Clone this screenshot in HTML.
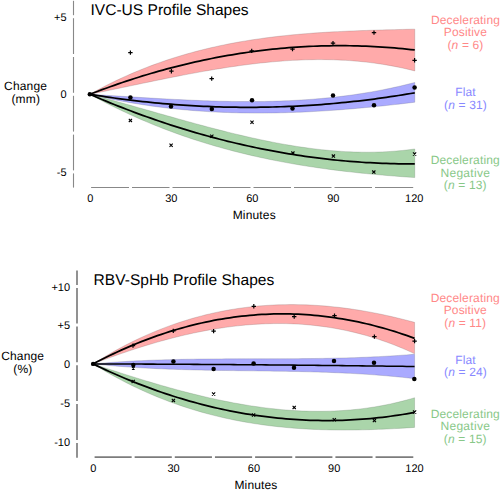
<!DOCTYPE html>
<html><head><meta charset="utf-8"><style>
html,body{margin:0;padding:0;background:#fff;width:501px;height:490px;overflow:hidden}
svg{display:block;text-rendering:geometricPrecision}
</style></head><body>
<svg width="501" height="490" viewBox="0 0 501 490">
<polygon points="89.80,94.30 93.86,92.04 97.92,89.84 101.99,87.69 106.05,85.59 110.11,83.55 114.17,81.56 118.23,79.62 122.30,77.73 126.36,75.89 130.42,74.10 134.48,72.36 138.54,70.67 142.61,69.02 146.67,67.42 150.73,65.87 154.79,64.36 158.85,62.90 162.92,61.48 166.98,60.10 171.04,58.76 175.10,57.47 179.16,56.22 183.23,55.00 187.29,53.83 191.35,52.70 195.41,51.60 199.47,50.54 203.54,49.52 207.60,48.53 211.66,47.58 215.72,46.66 219.78,45.78 223.85,44.92 227.91,44.11 231.97,43.32 236.03,42.56 240.09,41.84 244.16,41.14 248.22,40.47 252.28,39.83 256.34,39.22 260.40,38.63 264.47,38.07 268.53,37.54 272.59,37.03 276.65,36.54 280.71,36.08 284.78,35.64 288.84,35.22 292.90,34.82 296.96,34.45 301.02,34.09 305.09,33.75 309.15,33.43 313.21,33.12 317.27,32.84 321.33,32.57 325.40,32.31 329.46,32.07 333.52,31.84 337.58,31.63 341.64,31.43 345.71,31.24 349.77,31.06 353.83,30.89 357.89,30.73 361.95,30.58 366.02,30.44 370.08,30.31 374.14,30.18 378.20,30.06 382.26,29.95 386.33,29.83 390.39,29.73 394.45,29.63 398.51,29.52 402.57,29.43 406.64,29.33 410.70,29.23 414.76,29.13 414.76,70.93 410.70,69.92 406.64,68.96 402.57,68.05 398.51,67.19 394.45,66.39 390.39,65.63 386.33,64.92 382.26,64.26 378.20,63.65 374.14,63.08 370.08,62.56 366.02,62.08 361.95,61.65 357.89,61.26 353.83,60.92 349.77,60.62 345.71,60.35 341.64,60.13 337.58,59.95 333.52,59.81 329.46,59.70 325.40,59.64 321.33,59.61 317.27,59.61 313.21,59.66 309.15,59.73 305.09,59.84 301.02,59.99 296.96,60.16 292.90,60.37 288.84,60.60 284.78,60.87 280.71,61.17 276.65,61.49 272.59,61.85 268.53,62.23 264.47,62.63 260.40,63.07 256.34,63.52 252.28,64.00 248.22,64.51 244.16,65.04 240.09,65.58 236.03,66.15 231.97,66.74 227.91,67.35 223.85,67.98 219.78,68.63 215.72,69.29 211.66,69.97 207.60,70.66 203.54,71.37 199.47,72.10 195.41,72.84 191.35,73.59 187.29,74.35 183.23,75.12 179.16,75.91 175.10,76.70 171.04,77.51 166.98,78.32 162.92,79.14 158.85,79.96 154.79,80.79 150.73,81.63 146.67,82.47 142.61,83.32 138.54,84.17 134.48,85.02 130.42,85.87 126.36,86.72 122.30,87.57 118.23,88.42 114.17,89.27 110.11,90.12 106.05,90.97 101.99,91.81 97.92,92.64 93.86,93.47 89.80,94.30" fill="#ffaaaa" stroke="rgba(110,90,90,0.4)" stroke-width="0.6"/>
<polygon points="89.80,94.30 93.86,94.55 97.92,94.79 101.99,95.04 106.05,95.30 110.11,95.55 114.17,95.81 118.23,96.06 122.30,96.32 126.36,96.57 130.42,96.83 134.48,97.08 138.54,97.33 142.61,97.58 146.67,97.83 150.73,98.07 154.79,98.30 158.85,98.54 162.92,98.77 166.98,98.99 171.04,99.21 175.10,99.42 179.16,99.62 183.23,99.82 187.29,100.00 191.35,100.18 195.41,100.35 199.47,100.51 203.54,100.67 207.60,100.81 211.66,100.94 215.72,101.05 219.78,101.16 223.85,101.25 227.91,101.33 231.97,101.40 236.03,101.46 240.09,101.49 244.16,101.52 248.22,101.53 252.28,101.52 256.34,101.50 260.40,101.46 264.47,101.40 268.53,101.32 272.59,101.23 276.65,101.11 280.71,100.98 284.78,100.83 288.84,100.66 292.90,100.46 296.96,100.25 301.02,100.01 305.09,99.75 309.15,99.47 313.21,99.16 317.27,98.83 321.33,98.48 325.40,98.10 329.46,97.69 333.52,97.26 337.58,96.81 341.64,96.32 345.71,95.81 349.77,95.27 353.83,94.71 357.89,94.11 361.95,93.49 366.02,92.83 370.08,92.15 374.14,91.43 378.20,90.68 382.26,89.90 386.33,89.09 390.39,88.25 394.45,87.37 398.51,86.46 402.57,85.51 406.64,84.53 410.70,83.51 414.76,82.46 414.76,102.24 410.70,102.73 406.64,103.21 402.57,103.69 398.51,104.16 394.45,104.62 390.39,105.07 386.33,105.51 382.26,105.94 378.20,106.36 374.14,106.77 370.08,107.17 366.02,107.56 361.95,107.94 357.89,108.31 353.83,108.67 349.77,109.01 345.71,109.34 341.64,109.66 337.58,109.97 333.52,110.26 329.46,110.55 325.40,110.81 321.33,111.07 317.27,111.31 313.21,111.54 309.15,111.75 305.09,111.95 301.02,112.13 296.96,112.29 292.90,112.45 288.84,112.58 284.78,112.70 280.71,112.80 276.65,112.89 272.59,112.96 268.53,113.01 264.47,113.05 260.40,113.07 256.34,113.07 252.28,113.05 248.22,113.01 244.16,112.96 240.09,112.88 236.03,112.79 231.97,112.67 227.91,112.54 223.85,112.39 219.78,112.21 215.72,112.02 211.66,111.80 207.60,111.57 203.54,111.31 199.47,111.03 195.41,110.73 191.35,110.40 187.29,110.06 183.23,109.69 179.16,109.30 175.10,108.88 171.04,108.44 166.98,107.98 162.92,107.49 158.85,106.98 154.79,106.45 150.73,105.89 146.67,105.30 142.61,104.69 138.54,104.05 134.48,103.39 130.42,102.70 126.36,101.98 122.30,101.24 118.23,100.47 114.17,99.67 110.11,98.85 106.05,97.99 101.99,97.11 97.92,96.20 93.86,95.27 89.80,94.30" fill="#aaaaff" stroke="rgba(90,90,110,0.4)" stroke-width="0.6"/>
<polygon points="89.80,94.30 93.86,95.36 97.92,96.44 101.99,97.52 106.05,98.62 110.11,99.72 114.17,100.83 118.23,101.96 122.30,103.08 126.36,104.22 130.42,105.36 134.48,106.50 138.54,107.65 142.61,108.80 146.67,109.95 150.73,111.10 154.79,112.26 158.85,113.41 162.92,114.56 166.98,115.71 171.04,116.86 175.10,118.00 179.16,119.14 183.23,120.27 187.29,121.40 191.35,122.52 195.41,123.63 199.47,124.73 203.54,125.83 207.60,126.91 211.66,127.98 215.72,129.04 219.78,130.09 223.85,131.12 227.91,132.14 231.97,133.14 236.03,134.13 240.09,135.10 244.16,136.05 248.22,136.98 252.28,137.89 256.34,138.79 260.40,139.66 264.47,140.51 268.53,141.34 272.59,142.14 276.65,142.92 280.71,143.67 284.78,144.40 288.84,145.10 292.90,145.78 296.96,146.42 301.02,147.04 305.09,147.62 309.15,148.17 313.21,148.70 317.27,149.19 321.33,149.64 325.40,150.06 329.46,150.45 333.52,150.80 337.58,151.11 341.64,151.39 345.71,151.63 349.77,151.82 353.83,151.98 357.89,152.10 361.95,152.17 366.02,152.21 370.08,152.20 374.14,152.14 378.20,152.04 382.26,151.89 386.33,151.70 390.39,151.46 394.45,151.17 398.51,150.83 402.57,150.44 406.64,150.00 410.70,149.51 414.76,148.97 414.76,177.59 410.70,177.31 406.64,177.02 402.57,176.73 398.51,176.42 394.45,176.11 390.39,175.78 386.33,175.45 382.26,175.10 378.20,174.74 374.14,174.37 370.08,173.99 366.02,173.59 361.95,173.18 357.89,172.76 353.83,172.32 349.77,171.87 345.71,171.40 341.64,170.92 337.58,170.42 333.52,169.91 329.46,169.38 325.40,168.83 321.33,168.27 317.27,167.68 313.21,167.08 309.15,166.47 305.09,165.83 301.02,165.17 296.96,164.49 292.90,163.80 288.84,163.08 284.78,162.34 280.71,161.58 276.65,160.80 272.59,160.00 268.53,159.17 264.47,158.32 260.40,157.45 256.34,156.55 252.28,155.63 248.22,154.68 244.16,153.71 240.09,152.72 236.03,151.70 231.97,150.65 227.91,149.57 223.85,148.47 219.78,147.34 215.72,146.19 211.66,145.00 207.60,143.79 203.54,142.54 199.47,141.27 195.41,139.97 191.35,138.64 187.29,137.27 183.23,135.88 179.16,134.45 175.10,133.00 171.04,131.51 166.98,129.98 162.92,128.43 158.85,126.84 154.79,125.22 150.73,123.56 146.67,121.87 142.61,120.14 138.54,118.38 134.48,116.58 130.42,114.74 126.36,112.87 122.30,110.96 118.23,109.01 114.17,107.03 110.11,105.01 106.05,102.94 101.99,100.84 97.92,98.70 93.86,96.52 89.80,94.30" fill="#aad5aa" stroke="rgba(90,110,90,0.4)" stroke-width="0.6"/>
<polyline points="89.80,94.30 93.86,92.74 97.92,91.20 101.99,89.68 106.05,88.20 110.11,86.73 114.17,85.30 118.23,83.89 122.30,82.50 126.36,81.14 130.42,79.81 134.48,78.50 138.54,77.22 142.61,75.96 146.67,74.73 150.73,73.52 154.79,72.34 158.85,71.19 162.92,70.06 166.98,68.95 171.04,67.88 175.10,66.82 179.16,65.80 183.23,64.79 187.29,63.82 191.35,62.87 195.41,61.94 199.47,61.04 203.54,60.17 207.60,59.32 211.66,58.50 215.72,57.70 219.78,56.93 223.85,56.18 227.91,55.46 231.97,54.77 236.03,54.10 240.09,53.46 244.16,52.84 248.22,52.25 252.28,51.68 256.34,51.14 260.40,50.62 264.47,50.13 268.53,49.67 272.59,49.23 276.65,48.82 280.71,48.43 284.78,48.07 288.84,47.73 292.90,47.42 296.96,47.13 301.02,46.87 305.09,46.64 309.15,46.43 313.21,46.25 317.27,46.09 321.33,45.96 325.40,45.85 329.46,45.77 333.52,45.72 337.58,45.69 341.64,45.68 345.71,45.70 349.77,45.75 353.83,45.82 357.89,45.92 361.95,46.04 366.02,46.19 370.08,46.37 374.14,46.57 378.20,46.80 382.26,47.05 386.33,47.32 390.39,47.63 394.45,47.96 398.51,48.31 402.57,48.69 406.64,49.09 410.70,49.52 414.76,49.98" fill="none" stroke="#000" stroke-width="1.75"/>
<polyline points="89.80,94.30 93.86,94.96 97.92,95.60 101.99,96.23 106.05,96.84 110.11,97.43 114.17,98.00 118.23,98.56 122.30,99.10 126.36,99.62 130.42,100.13 134.48,100.62 138.54,101.09 142.61,101.54 146.67,101.98 150.73,102.40 154.79,102.80 158.85,103.19 162.92,103.55 166.98,103.90 171.04,104.24 175.10,104.55 179.16,104.85 183.23,105.14 187.29,105.40 191.35,105.65 195.41,105.88 199.47,106.09 203.54,106.29 207.60,106.47 211.66,106.63 215.72,106.77 219.78,106.90 223.85,107.01 227.91,107.11 231.97,107.18 236.03,107.24 240.09,107.28 244.16,107.31 248.22,107.31 252.28,107.30 256.34,107.28 260.40,107.23 264.47,107.17 268.53,107.09 272.59,107.00 276.65,106.88 280.71,106.75 284.78,106.61 288.84,106.44 292.90,106.26 296.96,106.06 301.02,105.84 305.09,105.61 309.15,105.36 313.21,105.09 317.27,104.81 321.33,104.51 325.40,104.19 329.46,103.85 333.52,103.50 337.58,103.12 341.64,102.74 345.71,102.33 349.77,101.91 353.83,101.47 357.89,101.01 361.95,100.54 366.02,100.05 370.08,99.54 374.14,99.01 378.20,98.47 382.26,97.91 386.33,97.34 390.39,96.74 394.45,96.13 398.51,95.50 402.57,94.86 406.64,94.19 410.70,93.51 414.76,92.81" fill="none" stroke="#000" stroke-width="1.75"/>
<polyline points="89.80,94.30 93.86,96.05 97.92,97.78 101.99,99.48 106.05,101.16 110.11,102.82 114.17,104.46 118.23,106.08 122.30,107.67 126.36,109.24 130.42,110.79 134.48,112.32 138.54,113.82 142.61,115.31 146.67,116.77 150.73,118.20 154.79,119.62 158.85,121.01 162.92,122.38 166.98,123.73 171.04,125.06 175.10,126.36 179.16,127.64 183.23,128.90 187.29,130.14 191.35,131.35 195.41,132.55 199.47,133.72 203.54,134.86 207.60,135.99 211.66,137.09 215.72,138.17 219.78,139.23 223.85,140.27 227.91,141.28 231.97,142.27 236.03,143.24 240.09,144.19 244.16,145.12 248.22,146.02 252.28,146.90 256.34,147.76 260.40,148.59 264.47,149.41 268.53,150.20 272.59,150.97 276.65,151.72 280.71,152.44 284.78,153.14 288.84,153.82 292.90,154.48 296.96,155.12 301.02,155.73 305.09,156.32 309.15,156.89 313.21,157.43 317.27,157.96 321.33,158.46 325.40,158.94 329.46,159.40 333.52,159.83 337.58,160.25 341.64,160.64 345.71,161.00 349.77,161.35 353.83,161.67 357.89,161.97 361.95,162.25 366.02,162.51 370.08,162.74 374.14,162.96 378.20,163.15 382.26,163.31 386.33,163.46 390.39,163.58 394.45,163.68 398.51,163.76 402.57,163.82 406.64,163.85 410.70,163.86 414.76,163.85" fill="none" stroke="#000" stroke-width="1.75"/>
<line x1="73.5" y1="0.8" x2="73.5" y2="15.2" stroke="#888" stroke-width="1.1"/><line x1="73.5" y1="18.2" x2="73.5" y2="54.0" stroke="#888" stroke-width="1.1"/><line x1="73.5" y1="57.0" x2="73.5" y2="92.8" stroke="#888" stroke-width="1.1"/><line x1="73.5" y1="95.8" x2="73.5" y2="131.6" stroke="#888" stroke-width="1.1"/><line x1="73.5" y1="134.6" x2="73.5" y2="170.4" stroke="#888" stroke-width="1.1"/><line x1="73.5" y1="173.4" x2="73.5" y2="187.6" stroke="#888" stroke-width="1.1"/>
<line x1="91.1" y1="187.5" x2="129.0" y2="187.5" stroke="#888" stroke-width="1.1"/><line x1="132.0" y1="187.5" x2="169.5" y2="187.5" stroke="#888" stroke-width="1.1"/><line x1="172.5" y1="187.5" x2="210.0" y2="187.5" stroke="#888" stroke-width="1.1"/><line x1="213.0" y1="187.5" x2="250.5" y2="187.5" stroke="#888" stroke-width="1.1"/><line x1="253.5" y1="187.5" x2="291.0" y2="187.5" stroke="#888" stroke-width="1.1"/><line x1="294.0" y1="187.5" x2="331.5" y2="187.5" stroke="#888" stroke-width="1.1"/><line x1="334.5" y1="187.5" x2="372.0" y2="187.5" stroke="#888" stroke-width="1.1"/><line x1="375.0" y1="187.5" x2="413.2" y2="187.5" stroke="#888" stroke-width="1.1"/>
<path d="M128.20 52.60H132.60M130.40 50.40V54.80" stroke="#000" stroke-width="1.2" fill="none"/>
<path d="M169.20 71.20H173.60M171.40 69.00V73.40" stroke="#000" stroke-width="1.2" fill="none"/>
<path d="M209.50 78.60H213.90M211.70 76.40V80.80" stroke="#000" stroke-width="1.2" fill="none"/>
<path d="M249.50 50.90H253.90M251.70 48.70V53.10" stroke="#000" stroke-width="1.2" fill="none"/>
<path d="M290.30 49.10H294.70M292.50 46.90V51.30" stroke="#000" stroke-width="1.2" fill="none"/>
<path d="M330.80 43.20H335.20M333.00 41.00V45.40" stroke="#000" stroke-width="1.2" fill="none"/>
<path d="M371.80 32.60H376.20M374.00 30.40V34.80" stroke="#000" stroke-width="1.2" fill="none"/>
<path d="M412.40 60.30H416.80M414.60 58.10V62.50" stroke="#000" stroke-width="1.2" fill="none"/>
<circle cx="130.40" cy="97.40" r="2.25" fill="#000"/>
<circle cx="171.00" cy="106.50" r="2.25" fill="#000"/>
<circle cx="211.80" cy="108.90" r="2.25" fill="#000"/>
<circle cx="252.00" cy="100.30" r="2.25" fill="#000"/>
<circle cx="292.50" cy="108.40" r="2.25" fill="#000"/>
<circle cx="333.00" cy="95.50" r="2.25" fill="#000"/>
<circle cx="374.00" cy="105.30" r="2.25" fill="#000"/>
<circle cx="414.60" cy="87.40" r="2.25" fill="#000"/>
<path d="M128.80 118.80L132.00 122.00M128.80 122.00L132.00 118.80" stroke="#000" stroke-width="1.1" fill="none"/>
<path d="M169.50 143.60L172.70 146.80M169.50 146.80L172.70 143.60" stroke="#000" stroke-width="1.1" fill="none"/>
<path d="M210.20 134.70L213.40 137.90M210.20 137.90L213.40 134.70" stroke="#000" stroke-width="1.1" fill="none"/>
<path d="M250.40 120.60L253.60 123.80M250.40 123.80L253.60 120.60" stroke="#000" stroke-width="1.1" fill="none"/>
<path d="M291.30 151.50L294.50 154.70M291.30 154.70L294.50 151.50" stroke="#000" stroke-width="1.1" fill="none"/>
<path d="M331.80 154.50L335.00 157.70M331.80 157.70L335.00 154.50" stroke="#000" stroke-width="1.1" fill="none"/>
<path d="M372.20 170.50L375.40 173.70M372.20 173.70L375.40 170.50" stroke="#000" stroke-width="1.1" fill="none"/>
<path d="M413.00 152.40L416.20 155.60M413.00 155.60L416.20 152.40" stroke="#000" stroke-width="1.1" fill="none"/>
<circle cx="89.80" cy="94.30" r="2.2" fill="#000"/>
<polygon points="93.10,363.90 97.12,361.37 101.14,358.90 105.16,356.49 109.17,354.14 113.19,351.85 117.21,349.62 121.23,347.45 125.25,345.34 129.27,343.28 133.28,341.29 137.30,339.35 141.32,337.47 145.34,335.65 149.36,333.88 153.38,332.17 157.40,330.52 161.41,328.92 165.43,327.38 169.45,325.89 173.47,324.45 177.49,323.07 181.51,321.74 185.53,320.47 189.54,319.24 193.56,318.07 197.58,316.96 201.60,315.89 205.62,314.87 209.64,313.91 213.65,312.99 217.67,312.13 221.69,311.31 225.71,310.54 229.73,309.82 233.75,309.15 237.77,308.53 241.78,307.95 245.80,307.43 249.82,306.94 253.84,306.51 257.86,306.12 261.88,305.77 265.90,305.47 269.91,305.22 273.93,305.01 277.95,304.84 281.97,304.72 285.99,304.64 290.01,304.60 294.02,304.60 298.04,304.65 302.06,304.74 306.08,304.87 310.10,305.03 314.12,305.24 318.14,305.49 322.15,305.78 326.17,306.11 330.19,306.47 334.21,306.88 338.23,307.32 342.25,307.80 346.27,308.32 350.28,308.87 354.30,309.46 358.32,310.08 362.34,310.74 366.36,311.44 370.38,312.17 374.39,312.93 378.41,313.73 382.43,314.56 386.45,315.43 390.47,316.33 394.49,317.25 398.51,318.22 402.52,319.21 406.54,320.23 410.56,321.29 414.58,322.37 414.58,353.72 410.56,351.86 406.54,350.07 402.52,348.34 398.51,346.67 394.49,345.07 390.47,343.53 386.45,342.06 382.43,340.64 378.41,339.29 374.39,337.99 370.38,336.76 366.36,335.58 362.34,334.46 358.32,333.40 354.30,332.40 350.28,331.46 346.27,330.57 342.25,329.74 338.23,328.96 334.21,328.23 330.19,327.57 326.17,326.95 322.15,326.39 318.14,325.88 314.12,325.42 310.10,325.02 306.08,324.66 302.06,324.35 298.04,324.10 294.02,323.89 290.01,323.73 285.99,323.62 281.97,323.56 277.95,323.55 273.93,323.58 269.91,323.65 265.90,323.77 261.88,323.94 257.86,324.15 253.84,324.41 249.82,324.70 245.80,325.04 241.78,325.42 237.77,325.85 233.75,326.31 229.73,326.81 225.71,327.36 221.69,327.94 217.67,328.56 213.65,329.22 209.64,329.92 205.62,330.65 201.60,331.42 197.58,332.22 193.56,333.07 189.54,333.94 185.53,334.85 181.51,335.79 177.49,336.77 173.47,337.78 169.45,338.82 165.43,339.89 161.41,340.99 157.40,342.12 153.38,343.29 149.36,344.48 145.34,345.70 141.32,346.95 137.30,348.22 133.28,349.52 129.27,350.85 125.25,352.21 121.23,353.59 117.21,354.99 113.19,356.42 109.17,357.87 105.16,359.34 101.14,360.84 97.12,362.36 93.10,363.90" fill="#ffaaaa" stroke="rgba(110,90,90,0.4)" stroke-width="0.6"/>
<polygon points="93.10,363.90 97.12,363.54 101.14,363.20 105.16,362.88 109.17,362.57 113.19,362.28 117.21,362.01 121.23,361.75 125.25,361.50 129.27,361.27 133.28,361.05 137.30,360.85 141.32,360.66 145.34,360.48 149.36,360.31 153.38,360.16 157.40,360.02 161.41,359.88 165.43,359.76 169.45,359.65 173.47,359.54 177.49,359.45 181.51,359.36 185.53,359.28 189.54,359.21 193.56,359.15 197.58,359.09 201.60,359.04 205.62,359.00 209.64,358.96 213.65,358.93 217.67,358.90 221.69,358.88 225.71,358.86 229.73,358.84 233.75,358.83 237.77,358.81 241.78,358.80 245.80,358.80 249.82,358.79 253.84,358.78 257.86,358.78 261.88,358.77 265.90,358.77 269.91,358.76 273.93,358.75 277.95,358.74 281.97,358.73 285.99,358.72 290.01,358.70 294.02,358.68 298.04,358.65 302.06,358.62 306.08,358.59 310.10,358.54 314.12,358.50 318.14,358.45 322.15,358.39 326.17,358.32 330.19,358.25 334.21,358.17 338.23,358.08 342.25,357.98 346.27,357.88 350.28,357.76 354.30,357.63 358.32,357.50 362.34,357.35 366.36,357.19 370.38,357.02 374.39,356.83 378.41,356.64 382.43,356.43 386.45,356.21 390.47,355.97 394.49,355.72 398.51,355.46 402.52,355.17 406.54,354.88 410.56,354.57 414.58,354.24 414.58,378.68 410.56,378.21 406.54,377.77 402.52,377.34 398.51,376.93 394.49,376.55 390.47,376.18 386.45,375.82 382.43,375.49 378.41,375.17 374.39,374.87 370.38,374.58 366.36,374.31 362.34,374.06 358.32,373.82 354.30,373.59 350.28,373.37 346.27,373.17 342.25,372.98 338.23,372.81 334.21,372.64 330.19,372.48 326.17,372.34 322.15,372.20 318.14,372.07 314.12,371.96 310.10,371.85 306.08,371.74 302.06,371.65 298.04,371.56 294.02,371.48 290.01,371.40 285.99,371.33 281.97,371.26 277.95,371.20 273.93,371.14 269.91,371.08 265.90,371.03 261.88,370.97 257.86,370.92 253.84,370.87 249.82,370.83 245.80,370.78 241.78,370.73 237.77,370.68 233.75,370.62 229.73,370.57 225.71,370.51 221.69,370.45 217.67,370.39 213.65,370.32 209.64,370.25 205.62,370.18 201.60,370.09 197.58,370.01 193.56,369.91 189.54,369.81 185.53,369.70 181.51,369.58 177.49,369.45 173.47,369.32 169.45,369.17 165.43,369.02 161.41,368.85 157.40,368.67 153.38,368.48 149.36,368.28 145.34,368.07 141.32,367.84 137.30,367.60 133.28,367.35 129.27,367.08 125.25,366.79 121.23,366.49 117.21,366.17 113.19,365.84 109.17,365.49 105.16,365.12 101.14,364.73 97.12,364.33 93.10,363.90" fill="#aaaaff" stroke="rgba(90,90,110,0.4)" stroke-width="0.6"/>
<polygon points="93.10,363.90 97.12,365.24 101.14,366.57 105.16,367.90 109.17,369.22 113.19,370.53 117.21,371.84 121.23,373.13 125.25,374.41 129.27,375.69 133.28,376.95 137.30,378.20 141.32,379.43 145.34,380.66 149.36,381.87 153.38,383.06 157.40,384.24 161.41,385.41 165.43,386.55 169.45,387.68 173.47,388.80 177.49,389.89 181.51,390.96 185.53,392.02 189.54,393.05 193.56,394.06 197.58,395.05 201.60,396.02 205.62,396.97 209.64,397.89 213.65,398.79 217.67,399.66 221.69,400.50 225.71,401.32 229.73,402.11 233.75,402.88 237.77,403.61 241.78,404.32 245.80,404.99 249.82,405.64 253.84,406.25 257.86,406.84 261.88,407.39 265.90,407.91 269.91,408.39 273.93,408.84 277.95,409.25 281.97,409.63 285.99,409.97 290.01,410.28 294.02,410.54 298.04,410.77 302.06,410.96 306.08,411.11 310.10,411.22 314.12,411.29 318.14,411.32 322.15,411.30 326.17,411.24 330.19,411.14 334.21,411.00 338.23,410.80 342.25,410.57 346.27,410.28 350.28,409.95 354.30,409.58 358.32,409.15 362.34,408.67 366.36,408.15 370.38,407.57 374.39,406.95 378.41,406.27 382.43,405.54 386.45,404.76 390.47,403.92 394.49,403.03 398.51,402.09 402.52,401.09 406.54,400.03 410.56,398.91 414.58,397.74 414.58,427.40 410.56,427.67 406.54,427.92 402.52,428.17 398.51,428.40 394.49,428.62 390.47,428.83 386.45,429.02 382.43,429.20 378.41,429.36 374.39,429.51 370.38,429.64 366.36,429.75 362.34,429.85 358.32,429.93 354.30,429.99 350.28,430.02 346.27,430.04 342.25,430.04 338.23,430.02 334.21,429.97 330.19,429.90 326.17,429.81 322.15,429.70 318.14,429.56 314.12,429.39 310.10,429.20 306.08,428.99 302.06,428.74 298.04,428.47 294.02,428.17 290.01,427.84 285.99,427.49 281.97,427.10 277.95,426.68 273.93,426.23 269.91,425.75 265.90,425.24 261.88,424.70 257.86,424.12 253.84,423.50 249.82,422.85 245.80,422.17 241.78,421.45 237.77,420.69 233.75,419.90 229.73,419.07 225.71,418.20 221.69,417.29 217.67,416.34 213.65,415.35 209.64,414.32 205.62,413.25 201.60,412.13 197.58,410.98 193.56,409.78 189.54,408.53 185.53,407.25 181.51,405.91 177.49,404.53 173.47,403.11 169.45,401.63 165.43,400.11 161.41,398.54 157.40,396.93 153.38,395.26 149.36,393.54 145.34,391.77 141.32,389.95 137.30,388.08 133.28,386.16 129.27,384.18 125.25,382.15 121.23,380.07 117.21,377.93 113.19,375.73 109.17,373.48 105.16,371.17 101.14,368.81 97.12,366.38 93.10,363.90" fill="#aad5aa" stroke="rgba(90,110,90,0.4)" stroke-width="0.6"/>
<polyline points="93.10,363.90 97.12,361.80 101.14,359.74 105.16,357.73 109.17,355.77 113.19,353.84 117.21,351.97 121.23,350.14 125.25,348.35 129.27,346.61 133.28,344.92 137.30,343.27 141.32,341.66 145.34,340.10 149.36,338.59 153.38,337.12 157.40,335.69 161.41,334.31 165.43,332.98 169.45,331.69 173.47,330.44 177.49,329.24 181.51,328.09 185.53,326.98 189.54,325.92 193.56,324.90 197.58,323.92 201.60,322.99 205.62,322.11 209.64,321.27 213.65,320.48 217.67,319.73 221.69,319.03 225.71,318.37 229.73,317.76 233.75,317.19 237.77,316.67 241.78,316.19 245.80,315.76 249.82,315.37 253.84,315.03 257.86,314.73 261.88,314.48 265.90,314.27 269.91,314.11 273.93,313.99 277.95,313.92 281.97,313.89 285.99,313.91 290.01,313.97 294.02,314.08 298.04,314.24 302.06,314.44 306.08,314.68 310.10,314.97 314.12,315.30 318.14,315.68 322.15,316.11 326.17,316.58 330.19,317.09 334.21,317.65 338.23,318.26 342.25,318.91 346.27,319.60 350.28,320.34 354.30,321.13 358.32,321.96 362.34,322.83 366.36,323.75 370.38,324.72 374.39,325.73 378.41,326.78 382.43,327.89 386.45,329.03 390.47,330.22 394.49,331.46 398.51,332.74 402.52,334.07 406.54,335.44 410.56,336.85 414.58,338.32" fill="none" stroke="#000" stroke-width="1.75"/>
<polyline points="93.10,363.90 97.12,363.91 101.14,363.92 105.16,363.94 109.17,363.95 113.19,363.97 117.21,363.98 121.23,364.00 125.25,364.01 129.27,364.03 133.28,364.04 137.30,364.06 141.32,364.08 145.34,364.10 149.36,364.12 153.38,364.14 157.40,364.16 161.41,364.18 165.43,364.20 169.45,364.22 173.47,364.24 177.49,364.26 181.51,364.29 185.53,364.31 189.54,364.33 193.56,364.36 197.58,364.38 201.60,364.41 205.62,364.43 209.64,364.46 213.65,364.49 217.67,364.52 221.69,364.54 225.71,364.57 229.73,364.60 233.75,364.63 237.77,364.66 241.78,364.69 245.80,364.72 249.82,364.76 253.84,364.79 257.86,364.82 261.88,364.85 265.90,364.89 269.91,364.92 273.93,364.96 277.95,364.99 281.97,365.03 285.99,365.07 290.01,365.10 294.02,365.14 298.04,365.18 302.06,365.22 306.08,365.26 310.10,365.30 314.12,365.34 318.14,365.38 322.15,365.42 326.17,365.46 330.19,365.50 334.21,365.54 338.23,365.59 342.25,365.63 346.27,365.68 350.28,365.72 354.30,365.77 358.32,365.81 362.34,365.86 366.36,365.91 370.38,365.95 374.39,366.00 378.41,366.05 382.43,366.10 386.45,366.15 390.47,366.20 394.49,366.25 398.51,366.30 402.52,366.35 406.54,366.40 410.56,366.46 414.58,366.51" fill="none" stroke="#000" stroke-width="1.55"/>
<polyline points="93.10,363.90 97.12,365.84 101.14,367.74 105.16,369.60 109.17,371.44 113.19,373.24 117.21,375.01 121.23,376.74 125.25,378.44 129.27,380.11 133.28,381.74 137.30,383.34 141.32,384.90 145.34,386.43 149.36,387.93 153.38,389.40 157.40,390.83 161.41,392.23 165.43,393.59 169.45,394.92 173.47,396.21 177.49,397.48 181.51,398.71 185.53,399.90 189.54,401.06 193.56,402.19 197.58,403.28 201.60,404.35 205.62,405.37 209.64,406.37 213.65,407.33 217.67,408.25 221.69,409.14 225.71,410.00 229.73,410.83 233.75,411.62 237.77,412.38 241.78,413.10 245.80,413.79 249.82,414.45 253.84,415.07 257.86,415.66 261.88,416.22 265.90,416.74 269.91,417.23 273.93,417.69 277.95,418.11 281.97,418.49 285.99,418.85 290.01,419.17 294.02,419.46 298.04,419.71 302.06,419.93 306.08,420.12 310.10,420.27 314.12,420.39 318.14,420.47 322.15,420.52 326.17,420.54 330.19,420.53 334.21,420.48 338.23,420.39 342.25,420.28 346.27,420.13 350.28,419.94 354.30,419.72 358.32,419.47 362.34,419.19 366.36,418.87 370.38,418.52 374.39,418.13 378.41,417.71 382.43,417.26 386.45,416.77 390.47,416.25 394.49,415.70 398.51,415.11 402.52,414.49 406.54,413.83 410.56,413.15 414.58,412.42" fill="none" stroke="#000" stroke-width="1.75"/>
<line x1="77.0" y1="270.6" x2="77.0" y2="284.9" stroke="#868686" stroke-width="1.8"/><line x1="77.0" y1="287.9" x2="77.0" y2="323.6" stroke="#868686" stroke-width="1.8"/><line x1="77.0" y1="326.6" x2="77.0" y2="362.3" stroke="#868686" stroke-width="1.8"/><line x1="77.0" y1="365.3" x2="77.0" y2="401.1" stroke="#868686" stroke-width="1.8"/><line x1="77.0" y1="404.1" x2="77.0" y2="440.0" stroke="#868686" stroke-width="1.8"/><line x1="77.0" y1="443.0" x2="77.0" y2="457.8" stroke="#868686" stroke-width="1.8"/>
<line x1="94.6" y1="457.1" x2="131.65" y2="457.1" stroke="#7c7c7c" stroke-width="1.6"/><line x1="134.65" y1="457.1" x2="171.8" y2="457.1" stroke="#7c7c7c" stroke-width="1.6"/><line x1="174.8" y1="457.1" x2="211.95" y2="457.1" stroke="#7c7c7c" stroke-width="1.6"/><line x1="214.95" y1="457.1" x2="252.1" y2="457.1" stroke="#7c7c7c" stroke-width="1.6"/><line x1="255.1" y1="457.1" x2="292.25" y2="457.1" stroke="#7c7c7c" stroke-width="1.6"/><line x1="295.25" y1="457.1" x2="332.4" y2="457.1" stroke="#7c7c7c" stroke-width="1.6"/><line x1="335.4" y1="457.1" x2="372.55" y2="457.1" stroke="#7c7c7c" stroke-width="1.6"/><line x1="375.55" y1="457.1" x2="413.3" y2="457.1" stroke="#7c7c7c" stroke-width="1.6"/>
<path d="M130.80 345.60H135.20M133.00 343.40V347.80" stroke="#000" stroke-width="1.2" fill="none"/>
<path d="M171.10 330.90H175.50M173.30 328.70V333.10" stroke="#000" stroke-width="1.2" fill="none"/>
<path d="M211.40 331.10H215.80M213.60 328.90V333.30" stroke="#000" stroke-width="1.2" fill="none"/>
<path d="M251.60 306.30H256.00M253.80 304.10V308.50" stroke="#000" stroke-width="1.2" fill="none"/>
<path d="M292.00 316.60H296.40M294.20 314.40V318.80" stroke="#000" stroke-width="1.2" fill="none"/>
<path d="M332.30 315.70H336.70M334.50 313.50V317.90" stroke="#000" stroke-width="1.2" fill="none"/>
<path d="M372.20 336.60H376.60M374.40 334.40V338.80" stroke="#000" stroke-width="1.2" fill="none"/>
<path d="M412.40 341.10H416.80M414.60 338.90V343.30" stroke="#000" stroke-width="1.2" fill="none"/>
<circle cx="133.30" cy="365.00" r="2.2" fill="#000"/>
<path d="M132.00 366.90L134.60 369.50M132.00 369.50L134.60 366.90" stroke="#000" stroke-width="1.1" fill="none"/>
<circle cx="173.40" cy="361.40" r="2.25" fill="#000"/>
<circle cx="213.60" cy="368.90" r="2.25" fill="#000"/>
<circle cx="253.60" cy="363.60" r="2.25" fill="#000"/>
<circle cx="294.00" cy="367.80" r="2.25" fill="#000"/>
<circle cx="334.00" cy="361.10" r="2.25" fill="#000"/>
<circle cx="374.00" cy="362.80" r="2.25" fill="#000"/>
<circle cx="414.30" cy="378.90" r="2.25" fill="#000"/>
<path d="M131.60 379.80L134.80 383.00M131.60 383.00L134.80 379.80" stroke="#000" stroke-width="1.1" fill="none"/>
<path d="M171.80 398.80L175.00 402.00M171.80 402.00L175.00 398.80" stroke="#000" stroke-width="1.1" fill="none"/>
<path d="M212.00 392.40L215.20 395.60M212.00 395.60L215.20 392.40" stroke="#000" stroke-width="1.1" fill="none"/>
<path d="M252.00 413.40L255.20 416.60M252.00 416.60L255.20 413.40" stroke="#000" stroke-width="1.1" fill="none"/>
<path d="M292.60 405.80L295.80 409.00M292.60 409.00L295.80 405.80" stroke="#000" stroke-width="1.1" fill="none"/>
<path d="M332.70 418.10L335.90 421.30M332.70 421.30L335.90 418.10" stroke="#000" stroke-width="1.1" fill="none"/>
<path d="M372.80 419.00L376.00 422.20M372.80 422.20L376.00 419.00" stroke="#000" stroke-width="1.1" fill="none"/>
<path d="M413.00 410.40L416.20 413.60M413.00 413.60L416.20 410.40" stroke="#000" stroke-width="1.1" fill="none"/>
<circle cx="93.10" cy="363.90" r="2.2" fill="#000"/>
<text x="90.5" y="15" font-family="Liberation Sans, sans-serif" font-size="15.55" text-anchor="start" fill="#000" >IVC-US Profile Shapes</text>
<text x="93.6" y="285" font-family="Liberation Sans, sans-serif" font-size="15.55" text-anchor="start" fill="#000" >RBV-SpHb Profile Shapes</text>
<text x="66.6" y="20.8" font-family="Liberation Sans, sans-serif" font-size="11" text-anchor="end" fill="#000" >+5</text>
<text x="66.6" y="98.4" font-family="Liberation Sans, sans-serif" font-size="11" text-anchor="end" fill="#000" >0</text>
<text x="66.6" y="176.0" font-family="Liberation Sans, sans-serif" font-size="11" text-anchor="end" fill="#000" >-5</text>
<text x="70.1" y="290.5" font-family="Liberation Sans, sans-serif" font-size="11" text-anchor="end" fill="#000" >+10</text>
<text x="70.1" y="329.2" font-family="Liberation Sans, sans-serif" font-size="11" text-anchor="end" fill="#000" >+5</text>
<text x="70.1" y="367.9" font-family="Liberation Sans, sans-serif" font-size="11" text-anchor="end" fill="#000" >0</text>
<text x="70.1" y="406.7" font-family="Liberation Sans, sans-serif" font-size="11" text-anchor="end" fill="#000" >-5</text>
<text x="70.1" y="445.6" font-family="Liberation Sans, sans-serif" font-size="11" text-anchor="end" fill="#000" >-10</text>
<text x="90.3" y="202" font-family="Liberation Sans, sans-serif" font-size="11" text-anchor="middle" fill="#000" >0</text>
<text x="93.3" y="472" font-family="Liberation Sans, sans-serif" font-size="11" text-anchor="middle" fill="#000" >0</text>
<text x="171.3" y="202" font-family="Liberation Sans, sans-serif" font-size="11" text-anchor="middle" fill="#000" >30</text>
<text x="173.6" y="472" font-family="Liberation Sans, sans-serif" font-size="11" text-anchor="middle" fill="#000" >30</text>
<text x="252.3" y="202" font-family="Liberation Sans, sans-serif" font-size="11" text-anchor="middle" fill="#000" >60</text>
<text x="253.9" y="472" font-family="Liberation Sans, sans-serif" font-size="11" text-anchor="middle" fill="#000" >60</text>
<text x="333.3" y="202" font-family="Liberation Sans, sans-serif" font-size="11" text-anchor="middle" fill="#000" >90</text>
<text x="334.2" y="472" font-family="Liberation Sans, sans-serif" font-size="11" text-anchor="middle" fill="#000" >90</text>
<text x="414.3" y="202" font-family="Liberation Sans, sans-serif" font-size="11" text-anchor="middle" fill="#000" >120</text>
<text x="414.5" y="472" font-family="Liberation Sans, sans-serif" font-size="11" text-anchor="middle" fill="#000" >120</text>
<text x="254.27" y="219" font-family="Liberation Sans, sans-serif" font-size="12" text-anchor="middle" fill="#000" letter-spacing="0.15">Minutes</text>
<text x="255.97" y="488.8" font-family="Liberation Sans, sans-serif" font-size="12" text-anchor="middle" fill="#000" letter-spacing="0.15">Minutes</text>
<text x="25.57" y="90.3" font-family="Liberation Sans, sans-serif" font-size="12" text-anchor="middle" fill="#000" letter-spacing="0.15">Change</text>
<text x="25.77" y="102.6" font-family="Liberation Sans, sans-serif" font-size="12" text-anchor="middle" fill="#000" letter-spacing="0.15">(mm)</text>
<text x="22.68" y="360" font-family="Liberation Sans, sans-serif" font-size="12" text-anchor="middle" fill="#000" letter-spacing="0.15">Change</text>
<text x="22.88" y="372.5" font-family="Liberation Sans, sans-serif" font-size="12" text-anchor="middle" fill="#000" letter-spacing="0.15">(%)</text>
<text x="465.47" y="24.0" font-family="Liberation Sans, sans-serif" font-size="12" text-anchor="middle" fill="#ff8888" letter-spacing="0.15">Decelerating</text><text x="465.47" y="36.2" font-family="Liberation Sans, sans-serif" font-size="12" text-anchor="middle" fill="#ff8888" letter-spacing="0.15">Positive</text><text x="465.47" y="49.0" font-family="Liberation Sans, sans-serif" font-size="12" text-anchor="middle" fill="#ff8888" letter-spacing="0.15">(<tspan font-style="italic">n</tspan> = 6)</text>
<text x="465.57" y="96.2" font-family="Liberation Sans, sans-serif" font-size="12" text-anchor="middle" fill="#8888ff" letter-spacing="0.15">Flat</text><text x="465.57" y="108.7" font-family="Liberation Sans, sans-serif" font-size="12" text-anchor="middle" fill="#8888ff" letter-spacing="0.15">(<tspan font-style="italic">n</tspan> = 31)</text>
<text x="465.27" y="163.8" font-family="Liberation Sans, sans-serif" font-size="12" text-anchor="middle" fill="#88c888" letter-spacing="0.15">Decelerating</text><text x="465.35" y="176.5" font-family="Liberation Sans, sans-serif" font-size="12" text-anchor="middle" fill="#88c888" letter-spacing="0.3">Negative</text><text x="465.27" y="189.0" font-family="Liberation Sans, sans-serif" font-size="12" text-anchor="middle" fill="#88c888" letter-spacing="0.15">(<tspan font-style="italic">n</tspan> = 13)</text>
<text x="465.27" y="302.2" font-family="Liberation Sans, sans-serif" font-size="12" text-anchor="middle" fill="#ff8888" letter-spacing="0.15">Decelerating</text><text x="465.27" y="314.3" font-family="Liberation Sans, sans-serif" font-size="12" text-anchor="middle" fill="#ff8888" letter-spacing="0.15">Positive</text><text x="465.27" y="326.5" font-family="Liberation Sans, sans-serif" font-size="12" text-anchor="middle" fill="#ff8888" letter-spacing="0.15">(<tspan font-style="italic">n</tspan> = 11)</text>
<text x="465.47" y="364.1" font-family="Liberation Sans, sans-serif" font-size="12" text-anchor="middle" fill="#8888ff" letter-spacing="0.15">Flat</text><text x="465.47" y="376.3" font-family="Liberation Sans, sans-serif" font-size="12" text-anchor="middle" fill="#8888ff" letter-spacing="0.15">(<tspan font-style="italic">n</tspan> = 24)</text>
<text x="465.27" y="418.1" font-family="Liberation Sans, sans-serif" font-size="12" text-anchor="middle" fill="#88c888" letter-spacing="0.15">Decelerating</text><text x="465.35" y="430.4" font-family="Liberation Sans, sans-serif" font-size="12" text-anchor="middle" fill="#88c888" letter-spacing="0.3">Negative</text><text x="465.27" y="442.6" font-family="Liberation Sans, sans-serif" font-size="12" text-anchor="middle" fill="#88c888" letter-spacing="0.15">(<tspan font-style="italic">n</tspan> = 15)</text>
</svg>
</body></html>
